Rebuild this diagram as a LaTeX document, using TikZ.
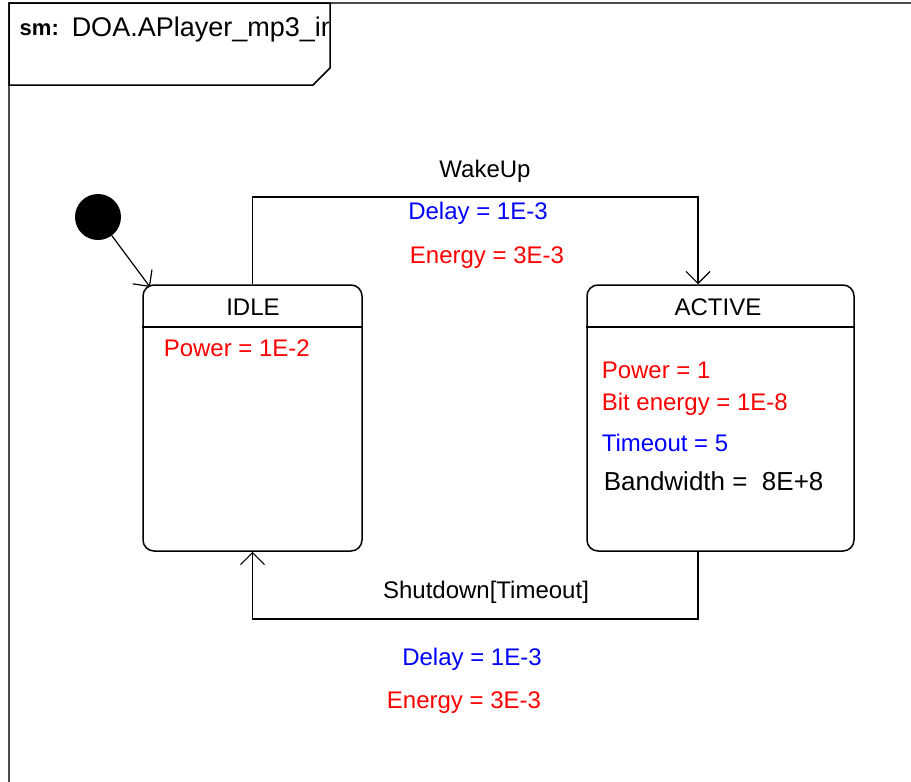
\documentclass[tikz,border=0pt]{standalone}
\usepackage{fontspec}
\setmainfont{Liberation Sans}
\usetikzlibrary{arrows.meta,calc}
\definecolor{lred}{RGB}{255,0,0}
\definecolor{lblue}{RGB}{0,0,255}
\begin{document}
\begin{tikzpicture}[x=1pt,y=-1pt,
  line width=1.5pt,
  statebox/.style={draw, rounded corners=11pt, minimum width=219pt, minimum height=266pt, inner sep=0pt},
  lbl/.style={font=\fontsize{24}{27}\selectfont, inner sep=0pt},
  lblL/.style={lbl, anchor=west},
  arr/.style={-{Straight Barb[length=12pt,width=24pt,line width=1.2pt]}},
  red/.style={text=lred}, blue/.style={text=lblue}]
\useasboundingbox (0,0) rectangle (911,782);
% frame
\draw[line width=1.2pt, black!70] (9,782) -- (9,3) -- (911,3);
% name tab
\draw (9,3) -- (330,3) -- (330,68) -- (313,85) -- (9,85) -- cycle;
\begin{scope}
\clip (9,3) rectangle (328,85);
\node[lblL, font=\bfseries\fontsize{22}{24}\selectfont] (smk) at (19,30) {sm:};
\node[lblL, font=\fontsize{27}{30}\selectfont] (title) at (71,30) {DOA.APlayer\_mp3\_impl};
\end{scope}
% states
\node[statebox] (idle) at (252.5,418) {};
\node[statebox, minimum width=267pt] (active) at (720.5,418) {};
\draw (idle.west |- 0,327) -- (idle.east |- 0,327);
\draw (active.west |- 0,327) -- (active.east |- 0,327);
\node[lbl] (idlet) at (253,307) {IDLE};
\node[lbl] (activet) at (718,307) {ACTIVE};
\node[lblL, red] (ipow) at (163,348) {Power = 1E-2};
\node[lblL, red] (apow) at (601,370) {Power = 1};
\node[lblL, red] (abit) at (601,404) {Bit energy = 1E-8};
\node[lblL, blue] (ato) at (601,443) {Timeout = 5};
\node[lblL, font=\fontsize{26}{29}\selectfont] (abw) at (603,481) {Bandwidth =\ \ 8E+8};
% initial
\fill (98,217) circle (23);
\coordinate (init) at (98,217);
\coordinate (itip) at (150,287);
\draw[arr, line width=1.2pt] ($(init)!23pt!(itip)$) -- (itip);
% wake up
\coordinate (wk) at (698,197);
\draw[arr] (idle.north) |- (wk) -- (wk |- active.north);
\node[lbl] (wu) at (485,171) {WakeUp};
\node[lbl, blue] (wd) at (478,213) {Delay = 1E-3};
\node[lbl, red] (we) at (487,258) {Energy = 3E-3};
% shutdown
\coordinate (sd) at (698,619);
\draw[arr] (sd |- active.south) -- (sd) -| (idle.south);
\node[lbl] (sdl) at (486,592) {Shutdown[Timeout]};
\node[lbl, blue] (sdd) at (472,659) {Delay = 1E-3};
\node[lbl, red] (sde) at (464,703) {Energy = 3E-3};
\end{tikzpicture}
\end{document}
